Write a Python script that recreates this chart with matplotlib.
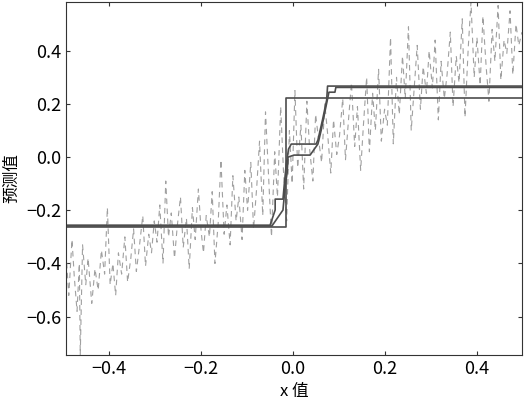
import numpy as np
import matplotlib
matplotlib.use("Agg")
import matplotlib.pyplot as plt

plt.rcParams['font.family'] = ['Liberation Sans Narrow', 'Noto Sans CJK SC', 'DejaVu Sans']
plt.rcParams['axes.unicode_minus'] = True

# noisy samples (sorted by x)
x_data = [-0.494, -0.488, -0.481, -0.476, -0.470, -0.465, -0.463, -0.458, -0.451, -0.446,
          -0.438, -0.431, -0.424, -0.417, -0.410, -0.404,
          -0.398, -0.392, -0.386, -0.380, -0.373, -0.366, -0.360, -0.353, -0.347, -0.341,
          -0.334, -0.327, -0.321, -0.314, -0.308, -0.302,
          -0.296, -0.290, -0.283, -0.277, -0.271, -0.265, -0.258, -0.252, -0.245, -0.239,
          -0.232, -0.226, -0.219, -0.213, -0.206, -0.200,
          -0.195, -0.189, -0.182, -0.176, -0.170, -0.163, -0.157, -0.150, -0.144, -0.137,
          -0.131, -0.124, -0.118, -0.111, -0.105,
          -0.099, -0.092, -0.086, -0.079, -0.073, -0.066, -0.060, -0.053, -0.047, -0.040,
          -0.034, -0.027, -0.021, -0.014, -0.008, -0.002,
          0.004, 0.010, 0.017, 0.023, 0.030, 0.036, 0.043, 0.049, 0.056, 0.062,
          0.069, 0.075, 0.082, 0.088, 0.095,
          0.101, 0.108, 0.114, 0.121, 0.127, 0.134, 0.140, 0.147, 0.153, 0.160,
          0.166, 0.173, 0.179, 0.186, 0.192, 0.199,
          0.205, 0.212, 0.218, 0.225, 0.231, 0.238, 0.244, 0.251, 0.257, 0.264,
          0.270, 0.277, 0.283, 0.290, 0.296,
          0.303, 0.309, 0.316, 0.322, 0.329, 0.335, 0.342, 0.348, 0.355, 0.361,
          0.368, 0.374, 0.381, 0.387, 0.394,
          0.400, 0.407, 0.413, 0.420, 0.426, 0.433, 0.439, 0.446, 0.452, 0.459,
          0.465, 0.472, 0.478, 0.485, 0.491, 0.498]
y_data = [-0.36, -0.52, -0.31, -0.45, -0.58, -0.40, -0.744, -0.33, -0.48, -0.38,
          -0.55, -0.42, -0.50, -0.35, -0.44, -0.19,
          -0.48, -0.40, -0.52, -0.36, -0.44, -0.30, -0.47, -0.38, -0.27, -0.43,
          -0.33, -0.22, -0.41, -0.29, -0.36, -0.24,
          -0.32, -0.18, -0.40, -0.09, -0.30, -0.21, -0.38, -0.26, -0.15, -0.34,
          -0.23, -0.42, -0.19, -0.31, -0.12, -0.28,
          -0.36, -0.22, -0.30, -0.13, -0.40, -0.25, -0.01, -0.29, -0.18, -0.33,
          -0.07, -0.24, -0.15, -0.31, -0.05,
          -0.20, -0.02, -0.27, -0.11, 0.06, -0.22, 0.17, -0.08, -0.30, 0.02,
          -0.15, 0.19, -0.05, -0.24, 0.10, -0.10,
          0.25, -0.04, 0.12, -0.12, 0.21, 0.03, -0.09, 0.16, 0.06, -0.02,
          0.20, 0.09, -0.06, 0.14, 0.01,
          0.08, 0.22, -0.01, 0.15, 0.28, 0.04, 0.19, -0.05, 0.12, 0.30,
          0.02, 0.24, 0.10, 0.33, 0.06, 0.18,
          0.12, 0.45, 0.05, 0.30, 0.16, 0.38, 0.22, 0.49, 0.10, 0.27,
          0.42, 0.18, 0.34, 0.24, 0.40,
          0.26, 0.44, 0.14, 0.36, 0.22, 0.31, 0.47, 0.19, 0.38, 0.28,
          0.52, 0.15, 0.41, 0.583, 0.30,
          0.45, 0.27, 0.53, 0.34, 0.21, 0.48, 0.36, 0.57, 0.29, 0.44,
          0.39, 0.55, 0.31, 0.50, 0.42, 0.47]

# three model predictions
pred1_x = [-0.494, -0.016, -0.016, 0.498]
pred1_y = [-0.263, -0.263, 0.223, 0.223]

pred2_x = [-0.494, -0.050, -0.039, -0.039, -0.022, -0.019, -0.015, -0.010, -0.004,
           0.050, 0.054, 0.064, 0.073, 0.075, 0.498]
pred2_y = [-0.256, -0.256, -0.199, -0.158, -0.158, -0.100, -0.030, 0.030, 0.049,
           0.049, 0.064, 0.140, 0.214, 0.267, 0.267]

pred3_x = [-0.494, -0.046, -0.022, -0.017, -0.013, -0.011, 0.002, 0.037, 0.054,
           0.061, 0.070, 0.078, 0.091, 0.093, 0.498]
pred3_y = [-0.259, -0.259, -0.199, -0.105, -0.060, 0.000, 0.0075, 0.0075, 0.049,
           0.100, 0.177, 0.244, 0.244, 0.262, 0.262]

fig = plt.figure(figsize=(5.26, 4.08), dpi=100)
ax = fig.add_axes([0.1255, 0.130, 0.8669, 0.865])

ax.plot(x_data, y_data, color='#a0a0a0', linestyle=(0, (5, 4)), linewidth=0.8)
for px, py in [(pred1_x, pred1_y), (pred2_x, pred2_y), (pred3_x, pred3_y)]:
    ax.plot(px, py, color='#4d4d4d', linewidth=1.2)

ax.set_xlim(-0.494, 0.498)
ax.set_ylim(-0.744, 0.583)
ax.set_xticks([-0.4, -0.2, 0.0, 0.2, 0.4])
ax.set_yticks([-0.6, -0.4, -0.2, 0.0, 0.2, 0.4])
ax.tick_params(direction='in', top=True, right=True, length=3, labelsize=13,
               color='#333333')
for s in ax.spines.values():
    s.set_color('#333333')

ax.set_xlabel('x 值', fontsize=12)
ax.set_ylabel('预测值', fontsize=12)

fig.savefig('out.png', dpi=100)
